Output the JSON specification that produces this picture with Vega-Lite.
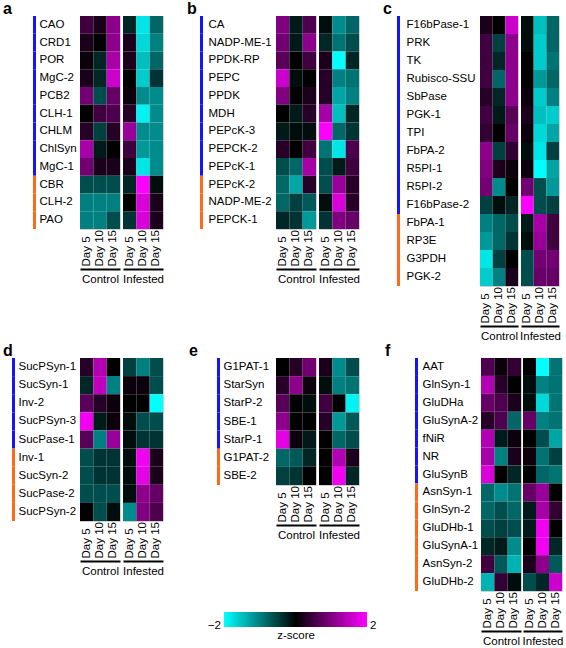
{
"$schema": "https://vega.github.io/schema/vega-lite/v6.json",
"background": "white",
"padding": {"left": 2, "top": 0, "right": 0, "bottom": 0},
"config": {"font": "Liberation Sans", "view": {"stroke": "#d0d0d0"}},
"datasets": {"genes": [
{"p":"a","g":"CAO","k":"1","t":"Control","Day 5":0.5,"Day 10":0.2,"Day 15":1.1},
{"p":"a","g":"CAO","k":"1","t":"Infested","Day 5":-0.3,"Day 10":-1.8,"Day 15":-0.8},
{"p":"a","g":"CRD1","k":"1","t":"Control","Day 5":0.2,"Day 10":0,"Day 15":1.1},
{"p":"a","g":"CRD1","k":"1","t":"Infested","Day 5":0.2,"Day 10":-1.7,"Day 15":-1.0},
{"p":"a","g":"POR","k":"1","t":"Control","Day 5":0.1,"Day 10":-0.3,"Day 15":1.3},
{"p":"a","g":"POR","k":"1","t":"Infested","Day 5":0.2,"Day 10":-1.5,"Day 15":-0.8},
{"p":"a","g":"MgC-2","k":"1","t":"Control","Day 5":0.2,"Day 10":-0.3,"Day 15":1.6},
{"p":"a","g":"MgC-2","k":"1","t":"Infested","Day 5":0,"Day 10":-1.6,"Day 15":-0.4},
{"p":"a","g":"PCB2","k":"1","t":"Control","Day 5":0.9,"Day 10":-0.6,"Day 15":0.8},
{"p":"a","g":"PCB2","k":"1","t":"Infested","Day 5":0.1,"Day 10":-1.1,"Day 15":-1.1},
{"p":"a","g":"CLH-1","k":"1","t":"Control","Day 5":0,"Day 10":0.5,"Day 15":0.6},
{"p":"a","g":"CLH-1","k":"1","t":"Infested","Day 5":0.3,"Day 10":-1.9,"Day 15":-1.1},
{"p":"a","g":"CHLM","k":"1","t":"Control","Day 5":0.3,"Day 10":-0.5,"Day 15":0.3},
{"p":"a","g":"CHLM","k":"1","t":"Infested","Day 5":1.2,"Day 10":-1.1,"Day 15":-1.1},
{"p":"a","g":"ChlSyn","k":"1","t":"Control","Day 5":1.3,"Day 10":-0.2,"Day 15":0},
{"p":"a","g":"ChlSyn","k":"1","t":"Infested","Day 5":0.5,"Day 10":-1.2,"Day 15":-1.1},
{"p":"a","g":"MgC-1","k":"1","t":"Control","Day 5":0.9,"Day 10":0.2,"Day 15":0.2},
{"p":"a","g":"MgC-1","k":"1","t":"Infested","Day 5":0.2,"Day 10":-1.8,"Day 15":-1.1},
{"p":"a","g":"CBR","k":"2","t":"Control","Day 5":-0.6,"Day 10":-0.6,"Day 15":-0.6},
{"p":"a","g":"CBR","k":"2","t":"Infested","Day 5":-0.3,"Day 10":2.0,"Day 15":-0.1},
{"p":"a","g":"CLH-2","k":"2","t":"Control","Day 5":-1.0,"Day 10":-1.0,"Day 15":-1.0},
{"p":"a","g":"CLH-2","k":"2","t":"Infested","Day 5":0,"Day 10":1.7,"Day 15":0.2},
{"p":"a","g":"PAO","k":"2","t":"Control","Day 5":-1.0,"Day 10":-1.0,"Day 15":-0.6},
{"p":"a","g":"PAO","k":"2","t":"Infested","Day 5":-0.4,"Day 10":1.7,"Day 15":0.2},
{"p":"b","g":"CA","k":"1","t":"Control","Day 5":1.0,"Day 10":-0.2,"Day 15":0.6},
{"p":"b","g":"CA","k":"1","t":"Infested","Day 5":-0.1,"Day 10":-1.1,"Day 15":-0.8},
{"p":"b","g":"NADP-ME-1","k":"1","t":"Control","Day 5":0.9,"Day 10":-0.2,"Day 15":1.1},
{"p":"b","g":"NADP-ME-1","k":"1","t":"Infested","Day 5":-0.3,"Day 10":-0.9,"Day 15":-0.6},
{"p":"b","g":"PPDK-RP","k":"1","t":"Control","Day 5":0.7,"Day 10":0,"Day 15":0.5},
{"p":"b","g":"PPDK-RP","k":"1","t":"Infested","Day 5":0.2,"Day 10":-2.0,"Day 15":-0.3},
{"p":"b","g":"PEPC","k":"1","t":"Control","Day 5":1.6,"Day 10":-0.1,"Day 15":0},
{"p":"b","g":"PEPC","k":"1","t":"Infested","Day 5":0.3,"Day 10":-1.0,"Day 15":-0.9},
{"p":"b","g":"PPDK","k":"1","t":"Control","Day 5":1.0,"Day 10":0,"Day 15":0.2},
{"p":"b","g":"PPDK","k":"1","t":"Infested","Day 5":0.3,"Day 10":-1.3,"Day 15":-1.0},
{"p":"b","g":"MDH","k":"1","t":"Control","Day 5":0,"Day 10":-0.2,"Day 15":0.3},
{"p":"b","g":"MDH","k":"1","t":"Infested","Day 5":1.3,"Day 10":-1.5,"Day 15":-0.3},
{"p":"b","g":"PEPcK-3","k":"1","t":"Control","Day 5":-0.2,"Day 10":-0.1,"Day 15":-0.1},
{"p":"b","g":"PEPcK-3","k":"1","t":"Infested","Day 5":2.0,"Day 10":-0.8,"Day 15":-0.4},
{"p":"b","g":"PEPCK-2","k":"1","t":"Control","Day 5":0.3,"Day 10":0,"Day 15":0.5},
{"p":"b","g":"PEPCK-2","k":"1","t":"Infested","Day 5":-0.9,"Day 10":-1.8,"Day 15":0.6},
{"p":"b","g":"PEPcK-1","k":"1","t":"Control","Day 5":-0.6,"Day 10":-0.8,"Day 15":1.3},
{"p":"b","g":"PEPcK-1","k":"1","t":"Infested","Day 5":-0.6,"Day 10":-0.2,"Day 15":0.5},
{"p":"b","g":"PEPcK-2","k":"2","t":"Control","Day 5":-0.8,"Day 10":-1.3,"Day 15":0.3},
{"p":"b","g":"PEPcK-2","k":"2","t":"Infested","Day 5":-0.6,"Day 10":1.2,"Day 15":0.3},
{"p":"b","g":"NADP-ME-2","k":"2","t":"Control","Day 5":-0.8,"Day 10":-0.5,"Day 15":-0.7},
{"p":"b","g":"NADP-ME-2","k":"2","t":"Infested","Day 5":-0.1,"Day 10":1.7,"Day 15":0.3},
{"p":"b","g":"PEPCK-1","k":"2","t":"Control","Day 5":-0.3,"Day 10":-0.4,"Day 15":-1.2},
{"p":"b","g":"PEPCK-1","k":"2","t":"Infested","Day 5":-0.4,"Day 10":1.0,"Day 15":0.8},
{"p":"c","g":"F16bPase-1","k":"1","t":"Control","Day 5":0.2,"Day 10":0,"Day 15":1.6},
{"p":"c","g":"F16bPase-1","k":"1","t":"Infested","Day 5":-0.1,"Day 10":-1.5,"Day 15":-0.8},
{"p":"c","g":"PRK","k":"1","t":"Control","Day 5":0.5,"Day 10":-0.5,"Day 15":1.1},
{"p":"c","g":"PRK","k":"1","t":"Infested","Day 5":-0.1,"Day 10":-1.6,"Day 15":-0.8},
{"p":"c","g":"TK","k":"1","t":"Control","Day 5":0.5,"Day 10":-0.3,"Day 15":1.1},
{"p":"c","g":"TK","k":"1","t":"Infested","Day 5":0,"Day 10":-1.6,"Day 15":-0.9},
{"p":"c","g":"Rubisco-SSU","k":"1","t":"Control","Day 5":0.5,"Day 10":-0.8,"Day 15":1.1},
{"p":"c","g":"Rubisco-SSU","k":"1","t":"Infested","Day 5":0,"Day 10":-1.2,"Day 15":-0.8},
{"p":"c","g":"SbPase","k":"1","t":"Control","Day 5":0.3,"Day 10":-0.3,"Day 15":1.1},
{"p":"c","g":"SbPase","k":"1","t":"Infested","Day 5":0.1,"Day 10":-1.6,"Day 15":-1.0},
{"p":"c","g":"PGK-1","k":"1","t":"Control","Day 5":0.5,"Day 10":-0.2,"Day 15":0.7},
{"p":"c","g":"PGK-1","k":"1","t":"Infested","Day 5":0.2,"Day 10":-1.5,"Day 15":-1.6},
{"p":"c","g":"TPI","k":"1","t":"Control","Day 5":0.4,"Day 10":0,"Day 15":0.8},
{"p":"c","g":"TPI","k":"1","t":"Infested","Day 5":0.1,"Day 10":-1.7,"Day 15":-1.3},
{"p":"c","g":"FbPA-2","k":"1","t":"Control","Day 5":1.1,"Day 10":-0.5,"Day 15":0.4},
{"p":"c","g":"FbPA-2","k":"1","t":"Infested","Day 5":-0.1,"Day 10":-1.8,"Day 15":-0.5},
{"p":"c","g":"R5PI-1","k":"1","t":"Control","Day 5":1.0,"Day 10":0.2,"Day 15":0.1},
{"p":"c","g":"R5PI-1","k":"1","t":"Infested","Day 5":0.1,"Day 10":-2.0,"Day 15":-1.3},
{"p":"c","g":"R5PI-2","k":"1","t":"Control","Day 5":0.9,"Day 10":-1.1,"Day 15":0},
{"p":"c","g":"R5PI-2","k":"1","t":"Infested","Day 5":0.9,"Day 10":-0.6,"Day 15":-1.2},
{"p":"c","g":"F16bPase-2","k":"1","t":"Control","Day 5":-0.5,"Day 10":-0.1,"Day 15":-0.3},
{"p":"c","g":"F16bPase-2","k":"1","t":"Infested","Day 5":2.0,"Day 10":-0.6,"Day 15":-0.5},
{"p":"c","g":"FbPA-1","k":"2","t":"Control","Day 5":-1.0,"Day 10":-0.8,"Day 15":-0.6},
{"p":"c","g":"FbPA-1","k":"2","t":"Infested","Day 5":-0.2,"Day 10":1.3,"Day 15":0.5},
{"p":"c","g":"RP3E","k":"2","t":"Control","Day 5":-1.2,"Day 10":-0.8,"Day 15":-0.4},
{"p":"c","g":"RP3E","k":"2","t":"Infested","Day 5":-0.1,"Day 10":1.2,"Day 15":0.5},
{"p":"c","g":"G3PDH","k":"2","t":"Control","Day 5":-1.8,"Day 10":-0.5,"Day 15":0},
{"p":"c","g":"G3PDH","k":"2","t":"Infested","Day 5":-0.6,"Day 10":0.9,"Day 15":0.9},
{"p":"c","g":"PGK-2","k":"2","t":"Control","Day 5":-1.6,"Day 10":-1.0,"Day 15":0.2},
{"p":"c","g":"PGK-2","k":"2","t":"Infested","Day 5":-0.6,"Day 10":0.8,"Day 15":0.8},
{"p":"d","g":"SucPSyn-1","k":"1","t":"Control","Day 5":0.3,"Day 10":1.4,"Day 15":0},
{"p":"d","g":"SucPSyn-1","k":"1","t":"Infested","Day 5":-0.5,"Day 10":-1.0,"Day 15":-0.6},
{"p":"d","g":"SucSyn-1","k":"1","t":"Control","Day 5":-0.3,"Day 10":1.5,"Day 15":-1.0},
{"p":"d","g":"SucSyn-1","k":"1","t":"Infested","Day 5":0.1,"Day 10":0.1,"Day 15":-0.6},
{"p":"d","g":"Inv-2","k":"1","t":"Control","Day 5":0.7,"Day 10":0.3,"Day 15":0.1},
{"p":"d","g":"Inv-2","k":"1","t":"Infested","Day 5":0,"Day 10":0,"Day 15":-2.0},
{"p":"d","g":"SucPSyn-3","k":"1","t":"Control","Day 5":1.9,"Day 10":-0.2,"Day 15":0.1},
{"p":"d","g":"SucPSyn-3","k":"1","t":"Infested","Day 5":-0.1,"Day 10":-0.6,"Day 15":-0.6},
{"p":"d","g":"SucPase-1","k":"1","t":"Control","Day 5":0.7,"Day 10":-1.0,"Day 15":1.2},
{"p":"d","g":"SucPase-1","k":"1","t":"Infested","Day 5":-0.1,"Day 10":-0.4,"Day 15":-0.4},
{"p":"d","g":"Inv-1","k":"2","t":"Control","Day 5":-0.6,"Day 10":-0.4,"Day 15":-0.4},
{"p":"d","g":"Inv-1","k":"2","t":"Infested","Day 5":-0.1,"Day 10":1.9,"Day 15":0.2},
{"p":"d","g":"SucSyn-2","k":"2","t":"Control","Day 5":-0.6,"Day 10":-0.4,"Day 15":-0.4},
{"p":"d","g":"SucSyn-2","k":"2","t":"Infested","Day 5":-0.1,"Day 10":1.8,"Day 15":0.2},
{"p":"d","g":"SucPase-2","k":"2","t":"Control","Day 5":-0.6,"Day 10":-0.6,"Day 15":-0.6},
{"p":"d","g":"SucPase-2","k":"2","t":"Infested","Day 5":-0.1,"Day 10":1.1,"Day 15":0.8},
{"p":"d","g":"SucPSyn-2","k":"2","t":"Control","Day 5":0,"Day 10":-0.6,"Day 15":-0.1},
{"p":"d","g":"SucPSyn-2","k":"2","t":"Infested","Day 5":-1.1,"Day 10":1.0,"Day 15":0.6},
{"p":"e","g":"G1PAT-1","k":"1","t":"Control","Day 5":0,"Day 10":0.3,"Day 15":0.9},
{"p":"e","g":"G1PAT-1","k":"1","t":"Infested","Day 5":0.2,"Day 10":-1.1,"Day 15":-0.6},
{"p":"e","g":"StarSyn","k":"1","t":"Control","Day 5":0.3,"Day 10":1.1,"Day 15":0.1},
{"p":"e","g":"StarSyn","k":"1","t":"Infested","Day 5":-0.1,"Day 10":-1.0,"Day 15":-0.9},
{"p":"e","g":"StarP-2","k":"1","t":"Control","Day 5":0.7,"Day 10":0,"Day 15":-0.1},
{"p":"e","g":"StarP-2","k":"1","t":"Infested","Day 5":0.5,"Day 10":0,"Day 15":-1.9},
{"p":"e","g":"SBE-1","k":"1","t":"Control","Day 5":1.1,"Day 10":0,"Day 15":0},
{"p":"e","g":"SBE-1","k":"1","t":"Infested","Day 5":0.3,"Day 10":-1.2,"Day 15":-0.7},
{"p":"e","g":"StarP-1","k":"1","t":"Control","Day 5":1.8,"Day 10":0.1,"Day 15":-0.2},
{"p":"e","g":"StarP-1","k":"1","t":"Infested","Day 5":0,"Day 10":-0.8,"Day 15":-0.6},
{"p":"e","g":"G1PAT-2","k":"2","t":"Control","Day 5":-0.8,"Day 10":-0.7,"Day 15":-0.3},
{"p":"e","g":"G1PAT-2","k":"2","t":"Infested","Day 5":0,"Day 10":1.4,"Day 15":0.2},
{"p":"e","g":"SBE-2","k":"2","t":"Control","Day 5":-0.5,"Day 10":-0.4,"Day 15":0},
{"p":"e","g":"SBE-2","k":"2","t":"Infested","Day 5":0,"Day 10":1.9,"Day 15":-0.3},
{"p":"f","g":"AAT","k":"1","t":"Control","Day 5":0.6,"Day 10":0.1,"Day 15":0.4},
{"p":"f","g":"AAT","k":"1","t":"Infested","Day 5":0,"Day 10":-2.0,"Day 15":-0.9},
{"p":"f","g":"GlnSyn-1","k":"1","t":"Control","Day 5":1.4,"Day 10":0.3,"Day 15":0},
{"p":"f","g":"GlnSyn-1","k":"1","t":"Infested","Day 5":-0.1,"Day 10":-1.0,"Day 15":-0.9},
{"p":"f","g":"GluDHa","k":"1","t":"Control","Day 5":0.8,"Day 10":0.6,"Day 15":0.2},
{"p":"f","g":"GluDHa","k":"1","t":"Infested","Day 5":-0.1,"Day 10":-1.7,"Day 15":-0.9},
{"p":"f","g":"GluSynA-2","k":"1","t":"Control","Day 5":0.3,"Day 10":0.6,"Day 15":-0.8},
{"p":"f","g":"GluSynA-2","k":"1","t":"Infested","Day 5":0.8,"Day 10":-1.0,"Day 15":-0.9},
{"p":"f","g":"fNiR","k":"1","t":"Control","Day 5":1.4,"Day 10":-0.2,"Day 15":0.1},
{"p":"f","g":"fNiR","k":"1","t":"Infested","Day 5":0,"Day 10":-0.6,"Day 15":-1.3},
{"p":"f","g":"NR","k":"1","t":"Control","Day 5":1.3,"Day 10":-1.0,"Day 15":0.2},
{"p":"f","g":"NR","k":"1","t":"Infested","Day 5":0.1,"Day 10":-0.9,"Day 15":-0.5},
{"p":"f","g":"GluSynB","k":"1","t":"Control","Day 5":1.7,"Day 10":0,"Day 15":-0.3},
{"p":"f","g":"GluSynB","k":"1","t":"Infested","Day 5":0,"Day 10":-0.8,"Day 15":-0.9},
{"p":"f","g":"AsnSyn-1","k":"2","t":"Control","Day 5":-0.8,"Day 10":-1.1,"Day 15":-0.9},
{"p":"f","g":"AsnSyn-1","k":"2","t":"Infested","Day 5":0.8,"Day 10":1.2,"Day 15":0},
{"p":"f","g":"GlnSyn-2","k":"2","t":"Control","Day 5":-0.8,"Day 10":-0.6,"Day 15":-0.8},
{"p":"f","g":"GlnSyn-2","k":"2","t":"Infested","Day 5":-0.2,"Day 10":1.3,"Day 15":0.4},
{"p":"f","g":"GluDHb-1","k":"2","t":"Control","Day 5":-0.6,"Day 10":-0.5,"Day 15":-0.6},
{"p":"f","g":"GluDHb-1","k":"2","t":"Infested","Day 5":-0.2,"Day 10":1.9,"Day 15":0},
{"p":"f","g":"GluSynA-1","k":"2","t":"Control","Day 5":-0.3,"Day 10":-0.2,"Day 15":-1.1},
{"p":"f","g":"GluSynA-1","k":"2","t":"Infested","Day 5":0,"Day 10":1.9,"Day 15":-0.3},
{"p":"f","g":"AsnSyn-2","k":"2","t":"Control","Day 5":0.5,"Day 10":-0.7,"Day 15":-1.4},
{"p":"f","g":"AsnSyn-2","k":"2","t":"Infested","Day 5":0.2,"Day 10":1.1,"Day 15":-0.7},
{"p":"f","g":"GluDHb-2","k":"2","t":"Control","Day 5":-1.4,"Day 10":0.4,"Day 15":-0.1},
{"p":"f","g":"GluDHb-2","k":"2","t":"Infested","Day 5":-0.6,"Day 10":-0.3,"Day 15":1.6}
]},
"spacing": 0,
"vconcat": [
{"spacing": 22, "hconcat": [
 {"bounds": "flush", "spacing": 29, "hconcat": [
  {"width": 2, "height": 1, "view": {"stroke": null}, "data": {"values": [{"lab": "a"}]}, "mark": {"type": "text", "align": "left", "baseline": "bottom", "fontSize": 16, "fontWeight": "bold", "color": "#000"}, "encoding": {"text": {"field": "lab"}}},
  {"bounds": "flush", "spacing": 44, "hconcat": [
  {"width": 3, "height": 213, "view": {"stroke": null}, "data": {"name": "genes"}, "transform": [{"filter": "datum.p == 'a' && datum.t == 'Control'"}], "mark": "rect",
   "encoding": {"y": {"field": "g", "type": "nominal", "sort": null, "axis": null, "scale": {"paddingInner": 0, "paddingOuter": 0}}, "fill": {"field": "k", "type": "nominal", "scale": {"domain": ["1","2"], "range": ["#1414ff","#ff6a1a"]}, "legend": null}}},
  {"bounds": "flush", "spacing": 3, "hconcat": [
   {"width": 40, "height": 213, "data": {"name": "genes"}, "transform": [{"filter": "datum.p == 'a' && datum.t == 'Control'"}, {"fold": ["Day 5","Day 10","Day 15"], "as": ["day","z"]}], "mark": "rect",
    "encoding": {
     "x": {"field": "day", "type": "nominal", "sort": ["Day 5","Day 10","Day 15"], "scale": {"paddingInner": 0, "paddingOuter": 0}, "axis": {"title": "Control", "labelAngle": -90, "labelAlign": "left", "labelBaseline": "middle", "labelPadding": -3, "offset": 40, "ticks": false, "domainColor": "#000", "domainWidth": 2, "titlePadding": 4, "labelOverlap": false, "labelFontSize": 11.5, "titleFontSize": 11.5, "titleFontWeight": "normal", "labelColor": "#000", "titleColor": "#000"}},
     "y": {"field": "g", "type": "nominal", "sort": null, "scale": {"paddingInner": 0, "paddingOuter": 0}, "axis": {"title": null, "labelAlign": "left", "labelPadding": 41, "ticks": false, "domain": false, "labelFontSize": 11.5, "labelColor": "#000", "labelLimit": 0}},
     "color": {"field": "z", "type": "quantitative", "title": "z-score", "scale": {"domain": [-2,0,2], "range": ["#00ffff","#000000","#ff00ff"], "interpolate": "rgb", "clamp": true},
      "legend": {"orient": "none", "legendX": 222, "legendY": 596, "direction": "horizontal", "gradientLength": 143, "gradientThickness": 15, "values": [-2, 2], "titleOrient": "bottom", "titleAnchor": "middle", "titleFontWeight": "normal", "titleFontSize": 11.5, "titlePadding": -1, "titleColor": "#000", "labelFontSize": 11.5, "labelColor": "#000", "labelOffset": -7.5, "labelBaseline": "middle", "labelFlush": false, "gradientStrokeWidth": 0, "padding": 0,
       "encode": {"labels": {"update": {"align": {"signal": "datum.value < 0 ? 'right' : 'left'"}, "dx": {"signal": "datum.value < 0 ? -3 : 3"}}}}}}}},
   {"width": 40, "height": 213, "data": {"name": "genes"}, "transform": [{"filter": "datum.p == 'a' && datum.t == 'Infested'"}, {"fold": ["Day 5","Day 10","Day 15"], "as": ["day","z"]}], "mark": "rect",
    "encoding": {
     "x": {"field": "day", "type": "nominal", "sort": ["Day 5","Day 10","Day 15"], "scale": {"paddingInner": 0, "paddingOuter": 0}, "axis": {"title": "Infested", "labelAngle": -90, "labelAlign": "left", "labelBaseline": "middle", "labelPadding": -3, "offset": 40, "ticks": false, "domainColor": "#000", "domainWidth": 2, "titlePadding": 4, "labelOverlap": false, "labelFontSize": 11.5, "titleFontSize": 11.5, "titleFontWeight": "normal", "labelColor": "#000", "titleColor": "#000"}},
     "y": {"field": "g", "type": "nominal", "sort": null, "scale": {"paddingInner": 0, "paddingOuter": 0}, "axis": null},
     "color": {"field": "z", "type": "quantitative", "title": "z-score", "scale": {"domain": [-2,0,2], "range": ["#00ffff","#000000","#ff00ff"], "interpolate": "rgb", "clamp": true}, "legend": null}}}
  ]}
 ]}]},
 {"bounds": "flush", "spacing": 12, "hconcat": [
  {"width": 2, "height": 1, "view": {"stroke": null}, "data": {"values": [{"lab": "b"}]}, "mark": {"type": "text", "align": "left", "baseline": "bottom", "fontSize": 16, "fontWeight": "bold", "color": "#000"}, "encoding": {"text": {"field": "lab"}}},
  {"bounds": "flush", "spacing": 73, "hconcat": [
  {"width": 3, "height": 213, "view": {"stroke": null}, "data": {"name": "genes"}, "transform": [{"filter": "datum.p == 'b' && datum.t == 'Control'"}], "mark": "rect",
   "encoding": {"y": {"field": "g", "type": "nominal", "sort": null, "axis": null, "scale": {"paddingInner": 0, "paddingOuter": 0}}, "fill": {"field": "k", "type": "nominal", "scale": {"domain": ["1","2"], "range": ["#1414ff","#ff6a1a"]}, "legend": null}}},
  {"bounds": "flush", "spacing": 3, "hconcat": [
   {"width": 40, "height": 213, "data": {"name": "genes"}, "transform": [{"filter": "datum.p == 'b' && datum.t == 'Control'"}, {"fold": ["Day 5","Day 10","Day 15"], "as": ["day","z"]}], "mark": "rect",
    "encoding": {
     "x": {"field": "day", "type": "nominal", "sort": ["Day 5","Day 10","Day 15"], "scale": {"paddingInner": 0, "paddingOuter": 0}, "axis": {"title": "Control", "labelAngle": -90, "labelAlign": "left", "labelBaseline": "middle", "labelPadding": -3, "offset": 40, "ticks": false, "domainColor": "#000", "domainWidth": 2, "titlePadding": 4, "labelOverlap": false, "labelFontSize": 11.5, "titleFontSize": 11.5, "titleFontWeight": "normal", "labelColor": "#000", "titleColor": "#000"}},
     "y": {"field": "g", "type": "nominal", "sort": null, "scale": {"paddingInner": 0, "paddingOuter": 0}, "axis": {"title": null, "labelAlign": "left", "labelPadding": 68, "ticks": false, "domain": false, "labelFontSize": 11.5, "labelColor": "#000", "labelLimit": 0}},
     "color": {"field": "z", "type": "quantitative", "title": "z-score", "scale": {"domain": [-2,0,2], "range": ["#00ffff","#000000","#ff00ff"], "interpolate": "rgb", "clamp": true}, "legend": null}}},
   {"width": 40, "height": 213, "data": {"name": "genes"}, "transform": [{"filter": "datum.p == 'b' && datum.t == 'Infested'"}, {"fold": ["Day 5","Day 10","Day 15"], "as": ["day","z"]}], "mark": "rect",
    "encoding": {
     "x": {"field": "day", "type": "nominal", "sort": ["Day 5","Day 10","Day 15"], "scale": {"paddingInner": 0, "paddingOuter": 0}, "axis": {"title": "Infested", "labelAngle": -90, "labelAlign": "left", "labelBaseline": "middle", "labelPadding": -3, "offset": 40, "ticks": false, "domainColor": "#000", "domainWidth": 2, "titlePadding": 4, "labelOverlap": false, "labelFontSize": 11.5, "titleFontSize": 11.5, "titleFontWeight": "normal", "labelColor": "#000", "titleColor": "#000"}},
     "y": {"field": "g", "type": "nominal", "sort": null, "scale": {"paddingInner": 0, "paddingOuter": 0}, "axis": null},
     "color": {"field": "z", "type": "quantitative", "title": "z-score", "scale": {"domain": [-2,0,2], "range": ["#00ffff","#000000","#ff00ff"], "interpolate": "rgb", "clamp": true}, "legend": null}}}
  ]}
 ]}]},
 {"bounds": "flush", "spacing": 13, "hconcat": [
  {"width": 2, "height": 1, "view": {"stroke": null}, "data": {"values": [{"lab": "c"}]}, "mark": {"type": "text", "align": "left", "baseline": "bottom", "fontSize": 16, "fontWeight": "bold", "color": "#000"}, "encoding": {"text": {"field": "lab"}}},
  {"bounds": "flush", "spacing": 80, "hconcat": [
  {"width": 3, "height": 270, "view": {"stroke": null}, "data": {"name": "genes"}, "transform": [{"filter": "datum.p == 'c' && datum.t == 'Control'"}], "mark": "rect",
   "encoding": {"y": {"field": "g", "type": "nominal", "sort": null, "axis": null, "scale": {"paddingInner": 0, "paddingOuter": 0}}, "fill": {"field": "k", "type": "nominal", "scale": {"domain": ["1","2"], "range": ["#1414ff","#ff6a1a"]}, "legend": null}}},
  {"bounds": "flush", "spacing": 3, "hconcat": [
   {"width": 38, "height": 270, "data": {"name": "genes"}, "transform": [{"filter": "datum.p == 'c' && datum.t == 'Control'"}, {"fold": ["Day 5","Day 10","Day 15"], "as": ["day","z"]}], "mark": "rect",
    "encoding": {
     "x": {"field": "day", "type": "nominal", "sort": ["Day 5","Day 10","Day 15"], "scale": {"paddingInner": 0, "paddingOuter": 0}, "axis": {"title": "Control", "labelAngle": -90, "labelAlign": "left", "labelBaseline": "middle", "labelPadding": -3, "offset": 40, "ticks": false, "domainColor": "#000", "domainWidth": 2, "titlePadding": 4, "labelOverlap": false, "labelFontSize": 11.5, "titleFontSize": 11.5, "titleFontWeight": "normal", "labelColor": "#000", "titleColor": "#000"}},
     "y": {"field": "g", "type": "nominal", "sort": null, "scale": {"paddingInner": 0, "paddingOuter": 0}, "axis": {"title": null, "labelAlign": "left", "labelPadding": 74, "ticks": false, "domain": false, "labelFontSize": 11.5, "labelColor": "#000", "labelLimit": 0}},
     "color": {"field": "z", "type": "quantitative", "title": "z-score", "scale": {"domain": [-2,0,2], "range": ["#00ffff","#000000","#ff00ff"], "interpolate": "rgb", "clamp": true}, "legend": null}}},
   {"width": 38, "height": 270, "data": {"name": "genes"}, "transform": [{"filter": "datum.p == 'c' && datum.t == 'Infested'"}, {"fold": ["Day 5","Day 10","Day 15"], "as": ["day","z"]}], "mark": "rect",
    "encoding": {
     "x": {"field": "day", "type": "nominal", "sort": ["Day 5","Day 10","Day 15"], "scale": {"paddingInner": 0, "paddingOuter": 0}, "axis": {"title": "Infested", "labelAngle": -90, "labelAlign": "left", "labelBaseline": "middle", "labelPadding": -3, "offset": 40, "ticks": false, "domainColor": "#000", "domainWidth": 2, "titlePadding": 4, "labelOverlap": false, "labelFontSize": 11.5, "titleFontSize": 11.5, "titleFontWeight": "normal", "labelColor": "#000", "titleColor": "#000"}},
     "y": {"field": "g", "type": "nominal", "sort": null, "scale": {"paddingInner": 0, "paddingOuter": 0}, "axis": null},
     "color": {"field": "z", "type": "quantitative", "title": "z-score", "scale": {"domain": [-2,0,2], "range": ["#00ffff","#000000","#ff00ff"], "interpolate": "rgb", "clamp": true}, "legend": null}}}
  ]}
 ]}]}
]},
{"spacing": 24, "hconcat": [
 {"bounds": "flush", "spacing": 8, "hconcat": [
  {"width": 2, "height": 1, "view": {"stroke": null}, "data": {"values": [{"lab": "d"}]}, "mark": {"type": "text", "align": "left", "baseline": "bottom", "fontSize": 16, "fontWeight": "bold", "color": "#000"}, "encoding": {"text": {"field": "lab"}}},
  {"bounds": "flush", "spacing": 65, "hconcat": [
  {"width": 3, "height": 163, "view": {"stroke": null}, "data": {"name": "genes"}, "transform": [{"filter": "datum.p == 'd' && datum.t == 'Control'"}], "mark": "rect",
   "encoding": {"y": {"field": "g", "type": "nominal", "sort": null, "axis": null, "scale": {"paddingInner": 0, "paddingOuter": 0}}, "fill": {"field": "k", "type": "nominal", "scale": {"domain": ["1","2"], "range": ["#1414ff","#ff6a1a"]}, "legend": null}}},
  {"bounds": "flush", "spacing": 3, "hconcat": [
   {"width": 40, "height": 163, "data": {"name": "genes"}, "transform": [{"filter": "datum.p == 'd' && datum.t == 'Control'"}, {"fold": ["Day 5","Day 10","Day 15"], "as": ["day","z"]}], "mark": "rect",
    "encoding": {
     "x": {"field": "day", "type": "nominal", "sort": ["Day 5","Day 10","Day 15"], "scale": {"paddingInner": 0, "paddingOuter": 0}, "axis": {"title": "Control", "labelAngle": -90, "labelAlign": "left", "labelBaseline": "middle", "labelPadding": -3, "offset": 40, "ticks": false, "domainColor": "#000", "domainWidth": 2, "titlePadding": 4, "labelOverlap": false, "labelFontSize": 11.5, "titleFontSize": 11.5, "titleFontWeight": "normal", "labelColor": "#000", "titleColor": "#000"}},
     "y": {"field": "g", "type": "nominal", "sort": null, "scale": {"paddingInner": 0, "paddingOuter": 0}, "axis": {"title": null, "labelAlign": "left", "labelPadding": 62, "ticks": false, "domain": false, "labelFontSize": 11.5, "labelColor": "#000", "labelLimit": 0}},
     "color": {"field": "z", "type": "quantitative", "title": "z-score", "scale": {"domain": [-2,0,2], "range": ["#00ffff","#000000","#ff00ff"], "interpolate": "rgb", "clamp": true}, "legend": null}}},
   {"width": 40, "height": 163, "data": {"name": "genes"}, "transform": [{"filter": "datum.p == 'd' && datum.t == 'Infested'"}, {"fold": ["Day 5","Day 10","Day 15"], "as": ["day","z"]}], "mark": "rect",
    "encoding": {
     "x": {"field": "day", "type": "nominal", "sort": ["Day 5","Day 10","Day 15"], "scale": {"paddingInner": 0, "paddingOuter": 0}, "axis": {"title": "Infested", "labelAngle": -90, "labelAlign": "left", "labelBaseline": "middle", "labelPadding": -3, "offset": 40, "ticks": false, "domainColor": "#000", "domainWidth": 2, "titlePadding": 4, "labelOverlap": false, "labelFontSize": 11.5, "titleFontSize": 11.5, "titleFontWeight": "normal", "labelColor": "#000", "titleColor": "#000"}},
     "y": {"field": "g", "type": "nominal", "sort": null, "scale": {"paddingInner": 0, "paddingOuter": 0}, "axis": null},
     "color": {"field": "z", "type": "quantitative", "title": "z-score", "scale": {"domain": [-2,0,2], "range": ["#00ffff","#000000","#ff00ff"], "interpolate": "rgb", "clamp": true}, "legend": null}}}
  ]}
 ]}]},
 {"bounds": "flush", "spacing": 27, "hconcat": [
  {"width": 2, "height": 1, "view": {"stroke": null}, "data": {"values": [{"lab": "e"}]}, "mark": {"type": "text", "align": "left", "baseline": "bottom", "fontSize": 16, "fontWeight": "bold", "color": "#000"}, "encoding": {"text": {"field": "lab"}}},
  {"bounds": "flush", "spacing": 56, "hconcat": [
  {"width": 3, "height": 127, "view": {"stroke": null}, "data": {"name": "genes"}, "transform": [{"filter": "datum.p == 'e' && datum.t == 'Control'"}], "mark": "rect",
   "encoding": {"y": {"field": "g", "type": "nominal", "sort": null, "axis": null, "scale": {"paddingInner": 0, "paddingOuter": 0}}, "fill": {"field": "k", "type": "nominal", "scale": {"domain": ["1","2"], "range": ["#1414ff","#ff6a1a"]}, "legend": null}}},
  {"bounds": "flush", "spacing": 3, "hconcat": [
   {"width": 40, "height": 127, "data": {"name": "genes"}, "transform": [{"filter": "datum.p == 'e' && datum.t == 'Control'"}, {"fold": ["Day 5","Day 10","Day 15"], "as": ["day","z"]}], "mark": "rect",
    "encoding": {
     "x": {"field": "day", "type": "nominal", "sort": ["Day 5","Day 10","Day 15"], "scale": {"paddingInner": 0, "paddingOuter": 0}, "axis": {"title": "Control", "labelAngle": -90, "labelAlign": "left", "labelBaseline": "middle", "labelPadding": -3, "offset": 40, "ticks": false, "domainColor": "#000", "domainWidth": 2, "titlePadding": 4, "labelOverlap": false, "labelFontSize": 11.5, "titleFontSize": 11.5, "titleFontWeight": "normal", "labelColor": "#000", "titleColor": "#000"}},
     "y": {"field": "g", "type": "nominal", "sort": null, "scale": {"paddingInner": 0, "paddingOuter": 0}, "axis": {"title": null, "labelAlign": "left", "labelPadding": 53, "ticks": false, "domain": false, "labelFontSize": 11.5, "labelColor": "#000", "labelLimit": 0}},
     "color": {"field": "z", "type": "quantitative", "title": "z-score", "scale": {"domain": [-2,0,2], "range": ["#00ffff","#000000","#ff00ff"], "interpolate": "rgb", "clamp": true}, "legend": null}}},
   {"width": 40, "height": 127, "data": {"name": "genes"}, "transform": [{"filter": "datum.p == 'e' && datum.t == 'Infested'"}, {"fold": ["Day 5","Day 10","Day 15"], "as": ["day","z"]}], "mark": "rect",
    "encoding": {
     "x": {"field": "day", "type": "nominal", "sort": ["Day 5","Day 10","Day 15"], "scale": {"paddingInner": 0, "paddingOuter": 0}, "axis": {"title": "Infested", "labelAngle": -90, "labelAlign": "left", "labelBaseline": "middle", "labelPadding": -3, "offset": 40, "ticks": false, "domainColor": "#000", "domainWidth": 2, "titlePadding": 4, "labelOverlap": false, "labelFontSize": 11.5, "titleFontSize": 11.5, "titleFontWeight": "normal", "labelColor": "#000", "titleColor": "#000"}},
     "y": {"field": "g", "type": "nominal", "sort": null, "scale": {"paddingInner": 0, "paddingOuter": 0}, "axis": null},
     "color": {"field": "z", "type": "quantitative", "title": "z-score", "scale": {"domain": [-2,0,2], "range": ["#00ffff","#000000","#ff00ff"], "interpolate": "rgb", "clamp": true}, "legend": null}}}
  ]}
 ]}]},
 {"bounds": "flush", "spacing": 29, "hconcat": [
  {"width": 2, "height": 1, "view": {"stroke": null}, "data": {"values": [{"lab": "f"}]}, "mark": {"type": "text", "align": "left", "baseline": "bottom", "fontSize": 16, "fontWeight": "bold", "color": "#000"}, "encoding": {"text": {"field": "lab"}}},
  {"bounds": "flush", "spacing": 63, "hconcat": [
  {"width": 3, "height": 233, "view": {"stroke": null}, "data": {"name": "genes"}, "transform": [{"filter": "datum.p == 'f' && datum.t == 'Control'"}], "mark": "rect",
   "encoding": {"y": {"field": "g", "type": "nominal", "sort": null, "axis": null, "scale": {"paddingInner": 0, "paddingOuter": 0}}, "fill": {"field": "k", "type": "nominal", "scale": {"domain": ["1","2"], "range": ["#1414ff","#ff6a1a"]}, "legend": null}}},
  {"bounds": "flush", "spacing": 2, "hconcat": [
   {"width": 40, "height": 233, "data": {"name": "genes"}, "transform": [{"filter": "datum.p == 'f' && datum.t == 'Control'"}, {"fold": ["Day 5","Day 10","Day 15"], "as": ["day","z"]}], "mark": "rect",
    "encoding": {
     "x": {"field": "day", "type": "nominal", "sort": ["Day 5","Day 10","Day 15"], "scale": {"paddingInner": 0, "paddingOuter": 0}, "axis": {"title": "Control", "labelAngle": -90, "labelAlign": "left", "labelBaseline": "middle", "labelPadding": -3, "offset": 40, "ticks": false, "domainColor": "#000", "domainWidth": 2, "titlePadding": 4, "labelOverlap": false, "labelFontSize": 11.5, "titleFontSize": 11.5, "titleFontWeight": "normal", "labelColor": "#000", "titleColor": "#000"}},
     "y": {"field": "g", "type": "nominal", "sort": null, "scale": {"paddingInner": 0, "paddingOuter": 0}, "axis": {"title": null, "labelAlign": "left", "labelPadding": 59, "ticks": false, "domain": false, "labelFontSize": 11.5, "labelColor": "#000", "labelLimit": 0}},
     "color": {"field": "z", "type": "quantitative", "title": "z-score", "scale": {"domain": [-2,0,2], "range": ["#00ffff","#000000","#ff00ff"], "interpolate": "rgb", "clamp": true}, "legend": null}}},
   {"width": 39, "height": 233, "data": {"name": "genes"}, "transform": [{"filter": "datum.p == 'f' && datum.t == 'Infested'"}, {"fold": ["Day 5","Day 10","Day 15"], "as": ["day","z"]}], "mark": "rect",
    "encoding": {
     "x": {"field": "day", "type": "nominal", "sort": ["Day 5","Day 10","Day 15"], "scale": {"paddingInner": 0, "paddingOuter": 0}, "axis": {"title": "Infested", "labelAngle": -90, "labelAlign": "left", "labelBaseline": "middle", "labelPadding": -3, "offset": 40, "ticks": false, "domainColor": "#000", "domainWidth": 2, "titlePadding": 4, "labelOverlap": false, "labelFontSize": 11.5, "titleFontSize": 11.5, "titleFontWeight": "normal", "labelColor": "#000", "titleColor": "#000"}},
     "y": {"field": "g", "type": "nominal", "sort": null, "scale": {"paddingInner": 0, "paddingOuter": 0}, "axis": null},
     "color": {"field": "z", "type": "quantitative", "title": "z-score", "scale": {"domain": [-2,0,2], "range": ["#00ffff","#000000","#ff00ff"], "interpolate": "rgb", "clamp": true}, "legend": null}}}
  ]}
 ]}]}
]}
]
}
